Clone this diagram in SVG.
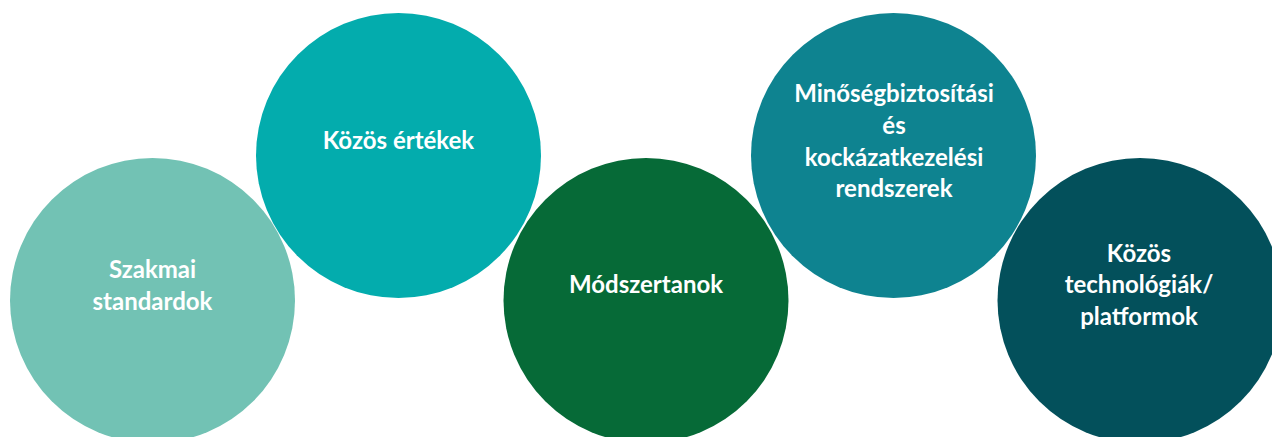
<svg xmlns="http://www.w3.org/2000/svg" width="1272" height="437" viewBox="0 0 1272 437">
<style>
.lbl{font-family:Lato,"Liberation Sans",sans-serif;font-weight:bold;font-size:24px;fill:#ffffff;text-anchor:middle}
</style>
<rect width="1272" height="437" fill="#ffffff"/>
<g id="n1"><circle cx="152.5" cy="300.5" r="142.5" fill="#72C2B4"/>
<text class="lbl" x="152.5" y="278">Szakmai</text><text class="lbl" x="152.5" y="310">standardok</text></g>
<g id="n2"><circle cx="398.5" cy="155.5" r="142.5" fill="#03ACAD"/>
<text class="lbl" x="398.5" y="149">Közös értékek</text></g>
<g id="n3"><circle cx="646" cy="300.5" r="142.5" fill="#066A37"/>
<text class="lbl" x="646" y="293">Módszertanok</text></g>
<g id="n4"><circle cx="893.5" cy="155.5" r="142.5" fill="#0E8390"/>
<text class="lbl" x="894" y="102">Minőségbiztosítási</text><text class="lbl" x="894" y="134">és</text><text class="lbl" x="894" y="166">kockázatkezelési</text><text class="lbl" x="894" y="197">rendszerek</text></g>
<g id="n5"><circle cx="1140" cy="300.5" r="142.5" fill="#03505B"/>
<text class="lbl" x="1139" y="262">Közös</text><text class="lbl" x="1139" y="293">technológiák/</text><text class="lbl" x="1139" y="325">platformok</text></g>
<g id="connectors"/>
</svg>
